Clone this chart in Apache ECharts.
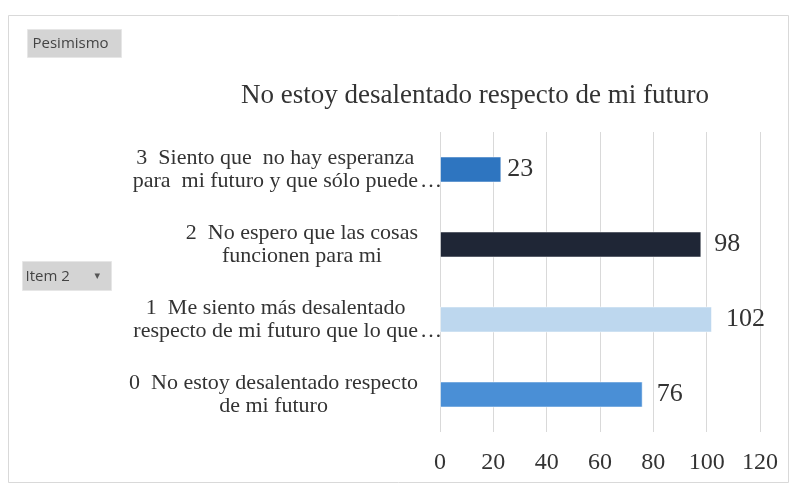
<!DOCTYPE html>
<html>
<head>
<meta charset="utf-8">
<script src="https://cdn.jsdelivr.net/npm/echarts@6/dist/echarts.min.js"></script>
<style>
  html, body { margin: 0; padding: 0; background: #fff; }
  #chart { width: 792px; height: 487px; }
</style>
</head>
<body>
<div id="chart"></div>
<script>
// Answer options for item 2 (Pesimismo), bottom to top
const categories = [
  ['0  No estoy desalentado respecto', 'de mi futuro'],
  ['1  Me siento más desalentado', 'respecto de mi futuro que lo que…'],
  ['2  No espero que las cosas', 'funcionen para mi'],
  ['3  Siento que  no hay esperanza', 'para  mi futuro y que sólo puede…']
];
const counts = [76, 102, 98, 23];
const xTicks = [0, 20, 40, 60, 80, 100, 120];
const chartTitle = 'No estoy desalentado respecto de mi futuro';
const filterLabel = 'Pesimismo';
const axisFieldLabel = 'Item 2';

const barColors = ['#4a8fd6', '#bdd7ee', '#1f2636', '#2e75c0'];
const labelGaps = [14, 14, 13, 6];
const serif = '"Liberation Serif", "DejaVu Serif", serif';
const sans = '"Open Sans", "DejaVu Sans", sans-serif';

// Each label line is centred in its block; a trailing ellipsis sits in a
// reserved slot on the right so it does not shift the centring.
function formatCategory(value) {
  return value.split('\n').map(line => {
    const cut = line.endsWith('…');
    const body = cut ? line.slice(0, -1) : line;
    return '{c|' + body + '}{e|' + (cut ? '…' : '\u00a0') + '}';
  }).join('\n');
}

const chart = echarts.init(document.getElementById('chart'));
chart.setOption({
  animation: false,
  backgroundColor: '#ffffff',
  title: {
    text: chartTitle,
    left: 470,
    textAlign: 'center',
    top: 77,
    textStyle: { fontFamily: serif, fontSize: 27, fontWeight: 'normal', color: '#333' }
  },
  grid: { left: 440, right: 32, top: 132, bottom: 55, containLabel: false },
  xAxis: {
    type: 'value',
    min: xTicks[0],
    max: xTicks[xTicks.length - 1],
    interval: xTicks[1] - xTicks[0],
    axisLine: { show: false },
    axisTick: { show: false },
    splitLine: { lineStyle: { color: '#d9d9d9', width: 1 } },
    axisLabel: { fontFamily: serif, fontSize: 24, color: '#333', margin: 19 }
  },
  yAxis: {
    type: 'category',
    data: categories.map(l => l.join('\n')),
    axisLine: { show: false },
    axisTick: { show: false },
    axisLabel: {
      margin: -2,
      align: 'right',
      formatter: formatCategory,
      rich: {
        c: { align: 'center', fontFamily: serif, fontSize: 22, color: '#333', lineHeight: 23 },
        e: { align: 'right', width: 24, fontFamily: serif, fontSize: 22, color: '#333', lineHeight: 23 }
      }
    }
  },
  series: [{
    type: 'bar',
    barWidth: 26,
    data: counts.map((v, i) => ({
      value: v,
      itemStyle: { color: barColors[i], borderColor: 'rgba(255,255,255,0.5)', borderWidth: 1 },
      label: { distance: labelGaps[i] }
    })),
    label: {
      show: true,
      position: 'right',
      fontFamily: serif,
      fontSize: 26,
      color: '#333'
    }
  }],
  graphic: [
    {
      type: 'rect',
      shape: { x: 8.5, y: 15.5, width: 780, height: 467 },
      style: { fill: 'none', stroke: '#d9d9d9', lineWidth: 1 },
      silent: true
    },
    {
      type: 'group', left: 27, top: 29,
      children: [
        { type: 'rect', shape: { x: 0, y: 0, width: 94, height: 28 },
          style: { fill: '#d4d4d4', stroke: '#e6e6e6', lineWidth: 1 } },
        { type: 'text', x: 5, y: 14,
          style: { text: filterLabel, fontFamily: sans, fontSize: 15, fill: '#444', verticalAlign: 'middle' } }
      ]
    },
    {
      type: 'group', left: 22, top: 261,
      children: [
        { type: 'rect', shape: { x: 0, y: 0, width: 89, height: 29 },
          style: { fill: '#d4d4d4', stroke: '#e6e6e6', lineWidth: 1 } },
        { type: 'text', x: 3, y: 15,
          style: { text: axisFieldLabel, fontFamily: sans, fontSize: 15, fill: '#444', verticalAlign: 'middle' } },
        { type: 'text', x: 72, y: 15,
          style: { text: '▾', fontFamily: '"DejaVu Sans", sans-serif', fontSize: 11, fill: '#555', verticalAlign: 'middle' } }
      ]
    }
  ]
});
</script>
</body>
</html>
